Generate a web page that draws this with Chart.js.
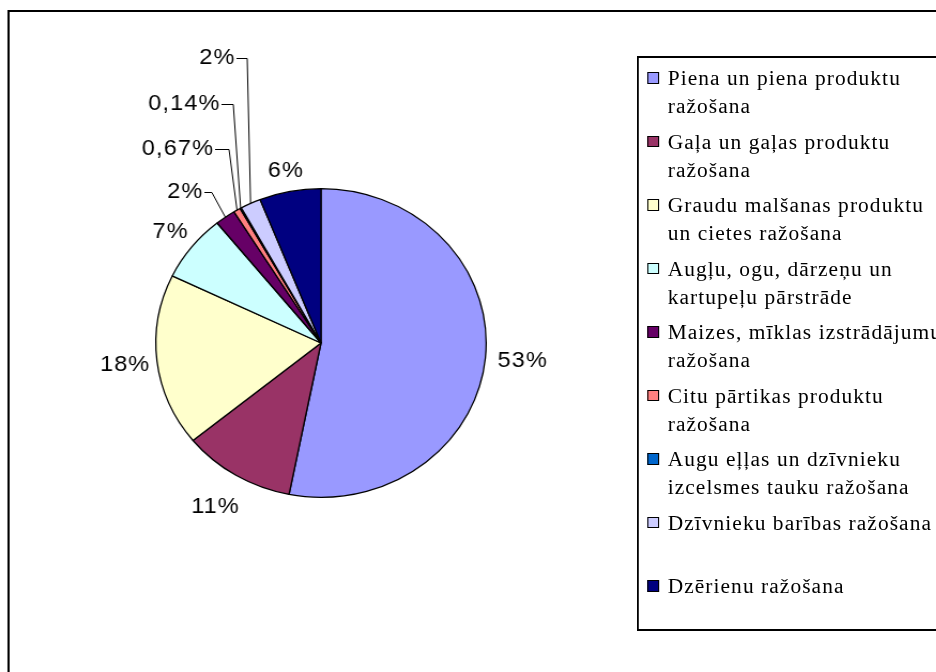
<!DOCTYPE html>
<html>
<head>
<meta charset="utf-8">
<script src="https://cdn.jsdelivr.net/npm/chart.js@4.4.0/dist/chart.umd.min.js"></script>
<style>
html, body { margin: 0; padding: 0; background: #fff; overflow: hidden; }
/* the original picture is stretched sideways a little, so is this one */
#wrap { position: relative; width: 875px; height: 672px; transform: scaleX(1.07); transform-origin: 0 0; }
#frame { position: absolute; left: 7px; top: 10px; width: 900px; height: 700px; border: 2px solid #000; box-sizing: border-box; }
#pie { position: absolute; left: 0; top: 0; }
#legend { position: absolute; left: 595px; top: 56px; width: 320px; height: 575px; border: 2px solid #000;
  box-sizing: border-box; padding-top: 6px; font-family: "Liberation Serif", "Times New Roman", serif;
  font-size: 20px; letter-spacing: 1px; line-height: 28px; color: #000; }
.item { position: relative; padding-left: 27px; margin-bottom: 7.5px; white-space: nowrap; min-height: 56px; }
.sw { position: absolute; left: 8px; top: 8px; width: 11px; height: 11.5px; border: 1.5px solid #000; box-sizing: border-box; }
</style>
</head>
<body>
<div id="wrap">
  <div id="frame"></div>
  <canvas id="pie" width="875" height="672"></canvas>
  <div id="legend"></div>
</div>
<script>
const categories = [
    ['Piena un piena produktu', 'ražošana'],
    ['Gaļa un gaļas produktu', 'ražošana'],
    ['Graudu malšanas produktu', 'un cietes ražošana'],
    ['Augļu, ogu, dārzeņu un', 'kartupeļu pārstrāde'],
    ['Maizes, mīklas izstrādājumu', 'ražošana'],
    ['Citu pārtikas produktu', 'ražošana'],
    ['Augu eļļas un dzīvnieku', 'izcelsmes tauku ražošana'],
    ['Dzīvnieku barības ražošana'],
    ['Dzērienu ražošana']
];
const shares = [53, 11, 18, 7, 2, 0.67, 0.14, 2, 6];
const pctLabels = ['53%', '11%', '18%', '7%', '2%', '0,67%', '0,14%', '2%', '6%'];

const colors = ['#9999FF', '#993366', '#FFFFCC', '#CCFFFF', '#660066', '#FF8080', '#0066CC', '#CCCCFF', '#000080'];
// distance of the plain labels from the rim
const labelGap = [35, 37, 30, 25, 0, 0, 0, 0, 21];
// small slices get a label with a leader line: text right end, y, end of horizontal run
const callouts = {
    4: {x: 190, y: 192, run: 198},
    5: {x: 200, y: 149, run: 214},
    6: {x: 206, y: 104, run: 218},
    7: {x: 220, y: 58, run: 231}
};

// legend
const legendEl = document.getElementById('legend');
categories.forEach((lines, i) => {
    const it = document.createElement('div');
    it.className = 'item';
    it.innerHTML = '<span class="sw" style="background:' + colors[i] + '"></span>' + lines.join('<br>');
    legendEl.appendChild(it);
});

const labelPlugin = {
    id: 'pctLabels',
    afterDatasetsDraw(chart) {
        const ctx = chart.ctx;
        const meta = chart.getDatasetMeta(0);
        ctx.save();
        ctx.font = '22px "Liberation Sans", Arial, sans-serif';
        ctx.letterSpacing = '1px';
        ctx.fillStyle = '#000';
        ctx.strokeStyle = '#000';
        ctx.lineWidth = 1;
        ctx.textBaseline = 'middle';
        meta.data.forEach((arc, i) => {
            const p = arc.getProps(['x', 'y', 'startAngle', 'endAngle', 'outerRadius'], true);
            const mid = (p.startAngle + p.endAngle) / 2;
            const c = callouts[i];
            if (c) {
                const ex = p.x + Math.cos(mid) * p.outerRadius;
                const ey = p.y + Math.sin(mid) * p.outerRadius;
                ctx.textAlign = 'right';
                ctx.fillText(pctLabels[i], c.x, c.y);
                ctx.beginPath();
                ctx.moveTo(c.x + 1, c.y + 0.5);
                ctx.lineTo(c.run, c.y + 0.5);
                ctx.lineTo(ex, ey);
                ctx.stroke();
            } else {
                const d = p.outerRadius + labelGap[i];
                ctx.textAlign = 'center';
                ctx.fillText(pctLabels[i], p.x + Math.cos(mid) * d, p.y + Math.sin(mid) * d);
            }
        });
        ctx.restore();
    }
};

new Chart(document.getElementById('pie').getContext('2d'), {
    type: 'pie',
    data: {
        labels: categories,
        datasets: [{
            data: shares,
            backgroundColor: colors,
            borderColor: '#000',
            borderWidth: 1.3
        }]
    },
    options: {
        responsive: false,
        animation: false,
        devicePixelRatio: 1,
        layout: { padding: { left: 145, top: 188, right: 420, bottom: 174 } },
        plugins: {
            legend: { display: false },
            tooltip: { enabled: false }
        }
    },
    plugins: [labelPlugin]
});
</script>
</body>
</html>
